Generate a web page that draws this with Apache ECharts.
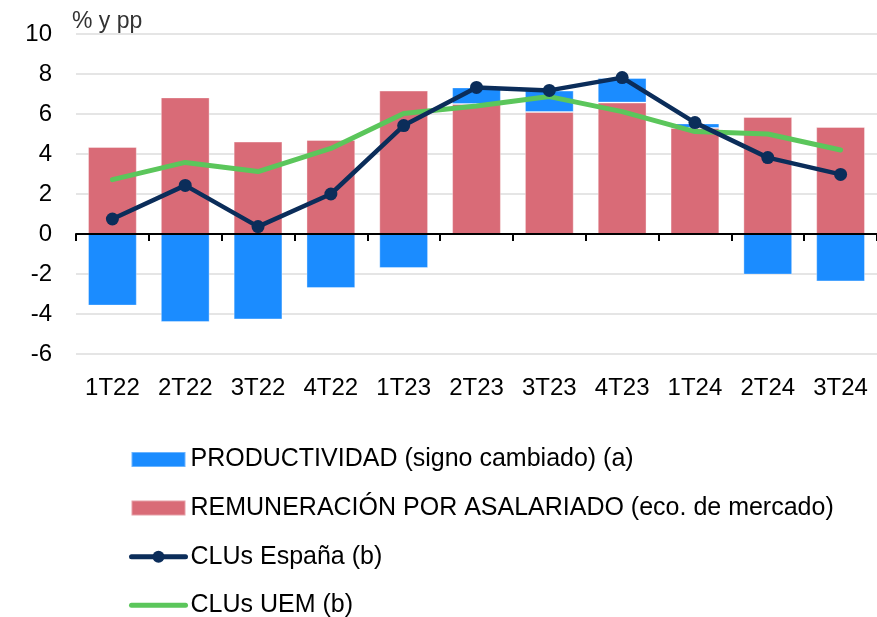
<!DOCTYPE html>
<html>
<head>
<meta charset="utf-8">
<script src="https://cdn.jsdelivr.net/npm/echarts@6/dist/echarts.min.js"></script>
<style>
  html, body { margin: 0; padding: 0; background: #fff; }
  #chart { width: 877px; height: 617px; }
</style>
</head>
<body>
<div id="chart"></div>
<script>
// Quarters shown on the category axis
const categories = ['1T22', '2T22', '3T22', '4T22', '1T23', '2T23', '3T23', '4T23', '1T24', '2T24', '3T24'];

// Contributions (pp) stacked as bars
const remuneracion = [4.35, 6.83, 4.62, 4.70, 7.17, 6.50, 6.10, 6.57, 5.30, 5.85, 5.35];
const productividad = [-3.58, -4.40, -4.27, -2.70, -1.70, 0.83, 1.07, 1.23, 0.23, -2.03, -2.37];

// Unit labour cost growth (%)
const clusEspana = [0.75, 2.43, 0.37, 2.00, 5.42, 7.33, 7.18, 7.82, 5.57, 3.82, 2.98];
const clusUem = [2.72, 3.58, 3.12, 4.28, 6.03, 6.40, 6.87, 6.12, 5.12, 5.00, 4.20];

// Value axis ticks
const yMin = -6, yMax = 10, yStep = 2;

const names = {
  prod: 'PRODUCTIVIDAD (signo cambiado) (a)',
  rem: 'REMUNERACIÓN POR ASALARIADO (eco. de mercado)',
  esp: 'CLUs España (b)',
  uem: 'CLUs UEM (b)'
};

const colors = { prod: '#1b8cff', rem: '#d96b77', esp: '#0b2d5a', uem: '#5bc65b' };

const font = '"Liberation Sans", Arial, Helvetica, sans-serif';
const chart = echarts.init(document.getElementById('chart'), null, { renderer: 'canvas' });

chart.setOption({
  animation: false,
  backgroundColor: '#ffffff',
  textStyle: { fontFamily: font },
  grid: { left: 76, right: -5, top: 34, bottom: 263, containLabel: false },
  graphic: [{
    type: 'text',
    left: 72,
    top: 10,
    style: { text: '% y pp', font: '23px ' + font, fill: '#333333' }
  }],
  xAxis: [{
    // zero line with quarter separators
    type: 'category',
    data: categories,
    position: 'bottom',
    z: 5,
    axisLine: { show: true, onZero: true, lineStyle: { color: '#000000', width: 2 } },
    axisTick: { show: true, length: 7, lineStyle: { color: '#000000', width: 2 } },
    axisLabel: { show: false },
    splitLine: { show: false }
  }, {
    // quarter labels along the bottom
    type: 'category',
    data: categories,
    position: 'bottom',
    axisLine: { show: false, onZero: false },
    axisTick: { show: false },
    axisLabel: { show: true, fontSize: 24, color: '#000000', margin: 22, fontFamily: font },
    splitLine: { show: false }
  }],
  yAxis: {
    type: 'value',
    min: yMin,
    max: yMax,
    interval: yStep,
    axisLine: { show: false },
    axisTick: { show: false },
    axisLabel: { fontSize: 24, color: '#000000', margin: 24, fontFamily: font },
    splitLine: { show: true, lineStyle: { color: '#dcdcdc', width: 1.5 } }
  },
  legend: {
    orient: 'vertical',
    left: 129,
    top: 446.5,
    height: 190,
    padding: 0,
    itemWidth: 54,
    itemHeight: 15,
    itemGap: 22.6,
    textStyle: { fontSize: 25, color: '#000000', fontFamily: font, lineHeight: 26 },
    data: [
      { name: names.prod, icon: 'rect' },
      { name: names.rem, icon: 'rect' },
      { name: names.esp, lineStyle: { width: 5, color: colors.esp, cap: 'round' } },
      { name: names.uem, lineStyle: { width: 5, color: colors.uem, cap: 'round' }, itemStyle: { opacity: 0 } }
    ]
  },
  series: [{
    name: names.rem,
    type: 'bar',
    stack: 'clu',
    barWidth: '67%',
    data: remuneracion,
    itemStyle: { color: colors.rem, borderColor: 'rgba(255,255,255,0.35)', borderWidth: 1 }
  }, {
    name: names.prod,
    type: 'bar',
    stack: 'clu',
    barWidth: '67%',
    data: productividad,
    itemStyle: { color: colors.prod, borderColor: 'rgba(255,255,255,0.35)', borderWidth: 1 }
  }, {
    name: names.uem,
    type: 'line',
    z: 10,
    data: clusUem,
    symbol: 'none',
    lineStyle: { color: colors.uem, width: 5, cap: 'round', join: 'round' },
    itemStyle: { color: colors.uem }
  }, {
    name: names.esp,
    type: 'line',
    z: 11,
    data: clusEspana,
    symbol: 'circle',
    symbolSize: 13,
    lineStyle: { color: colors.esp, width: 4.5, join: 'round' },
    itemStyle: { color: colors.esp }
  }]
});
</script>
</body>
</html>
